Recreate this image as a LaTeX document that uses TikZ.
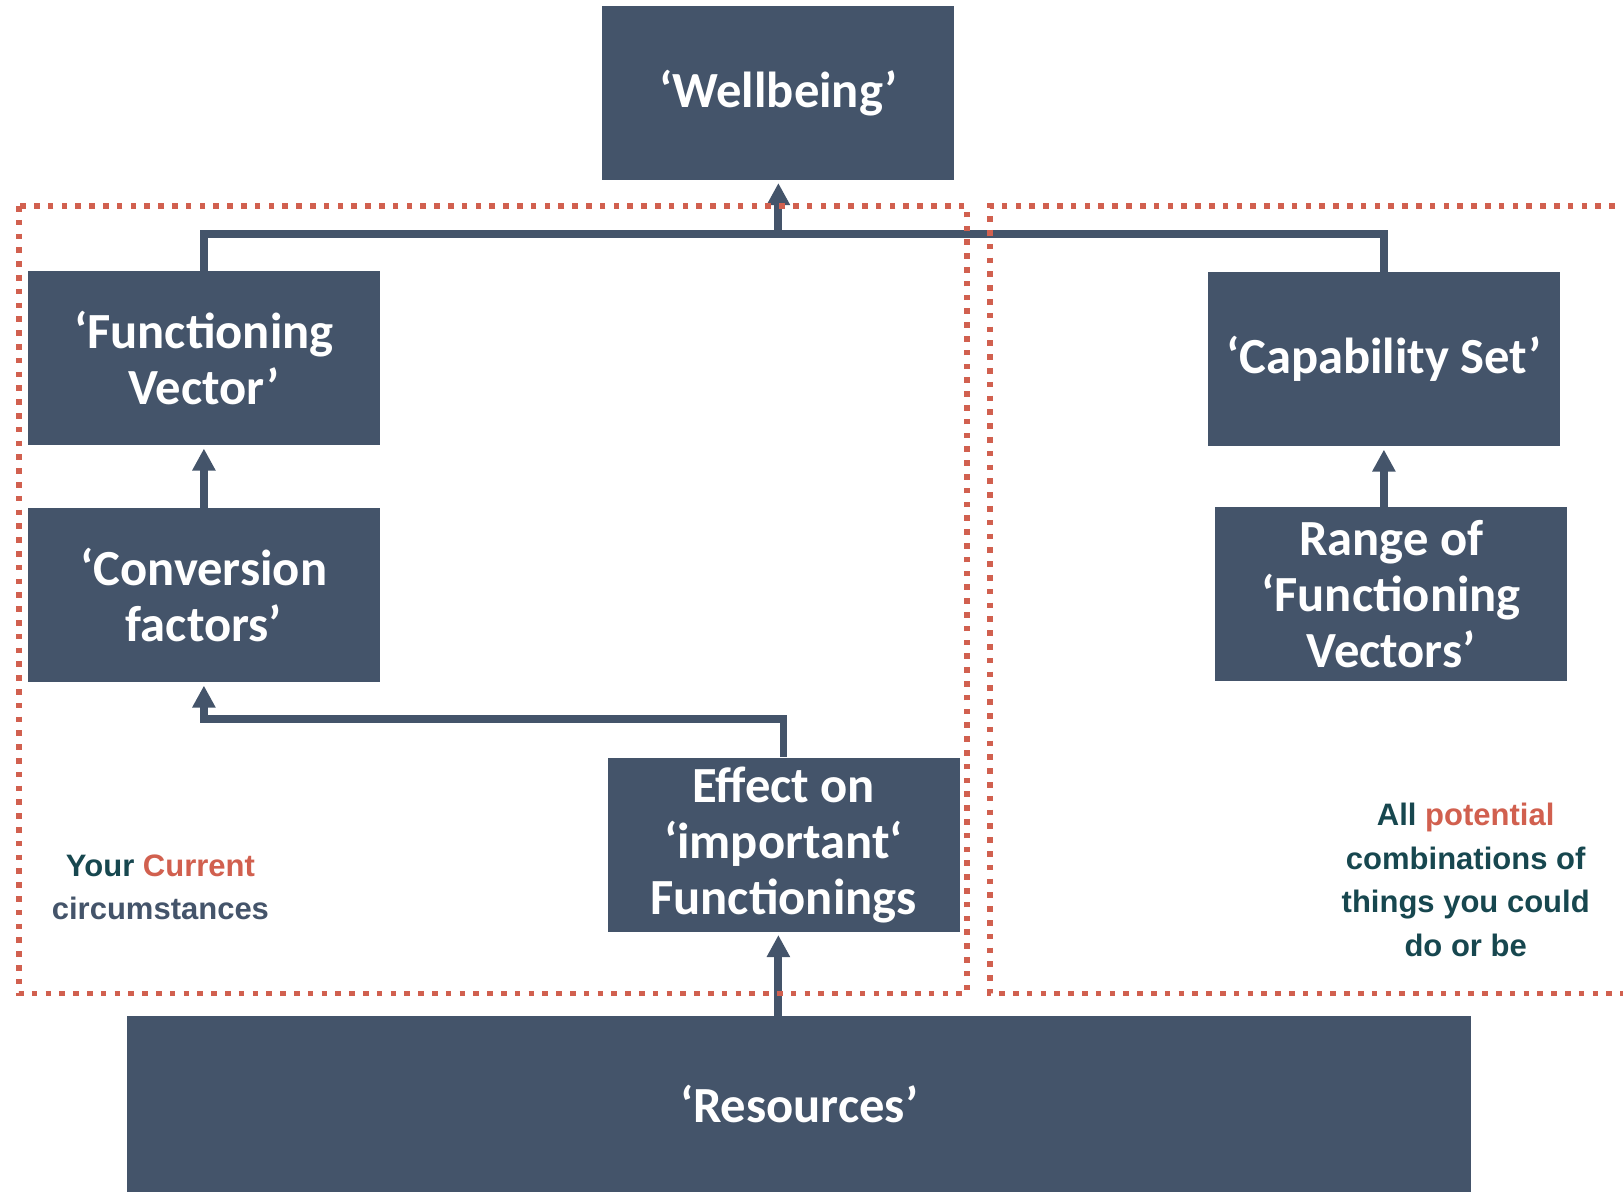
\documentclass[tikz,border=0pt]{standalone}
\usepackage{fontspec}
\setmainfont{Carlito}
\newfontfamily\legendfont{Liberation Sans}
\usetikzlibrary{arrows.meta}
\definecolor{slate}{HTML}{44546A}
\definecolor{brick}{HTML}{D1604F}
\definecolor{teal}{HTML}{17474F}
\begin{document}
\begin{tikzpicture}[x=0.5175pt,y=-0.5175pt,
  box/.style={fill=slate,text=white,minimum width=176pt,minimum height=87pt,
    align=center,inner sep=0pt,font=\fontsize{25.3}{28}\selectfont\bfseries},
  conn/.style={draw=slate,line width=3.9pt},
  arr/.style={conn,-{Triangle[width=11pt,length=11pt]},shorten >=1.5pt},
  frame/.style={draw=brick,line width=2.8pt,dash pattern=on 2.8pt off 4.1pt},
  legend/.style={align=center,font=\legendfont\fontsize{15.5}{21.7}\selectfont\bfseries}]
\useasboundingbox (0,0) rectangle (1568,1151.6);
\node[box] (well) at (752,89.5) {‘Wellbeing’};
\node[box] (fv) at (197,346) {‘Functioning\\Vector’};
\node[box] (cf) at (197,575) {‘Conversion\\factors’};
\node[box] (eff) at (757,816) {Effect on\\‘important‘\\Functionings};
\node[box] (cap) at (1337,347) {‘Capability Set’};
\node[box] (range) at (1344,574) {Range of\\‘Functioning\\Vectors’};
\node[box,minimum width=671.7pt,minimum height=88pt] (res) at (772,1067) {‘Resources’};
\coordinate (topj) at (752,226);
\coordinate (cfj) at (197,695);
% connectors
\draw[conn] (fv.north) |- (topj) -| (cap.north);
\draw[arr] (topj) -- (well.south);
\draw[arr] (cf.north) -- (fv.south);
\draw[arr] (eff.north) |- (cfj) -- (cf.south);
\draw[arr] (well.south |- res.north) -- (well.south |- eff.south);
\draw[arr] (cap.south |- range.north) -- (cap.south);
% dotted frames
\draw[frame] (18.4,199) rectangle (934,960);
\draw[frame] (1600,199) -- (956.5,199) -- (956.5,960) -- (1600,960);
\node[legend] (now) at (155,857) {\textcolor{teal}{Your} \textcolor{brick}{Current}\\\textcolor{slate}{circumstances}};
\node[legend,text=teal] (all) at (1416,850) {All \textcolor{brick}{potential}\\combinations of\\things you could\\do or be};
\end{tikzpicture}
\end{document}
